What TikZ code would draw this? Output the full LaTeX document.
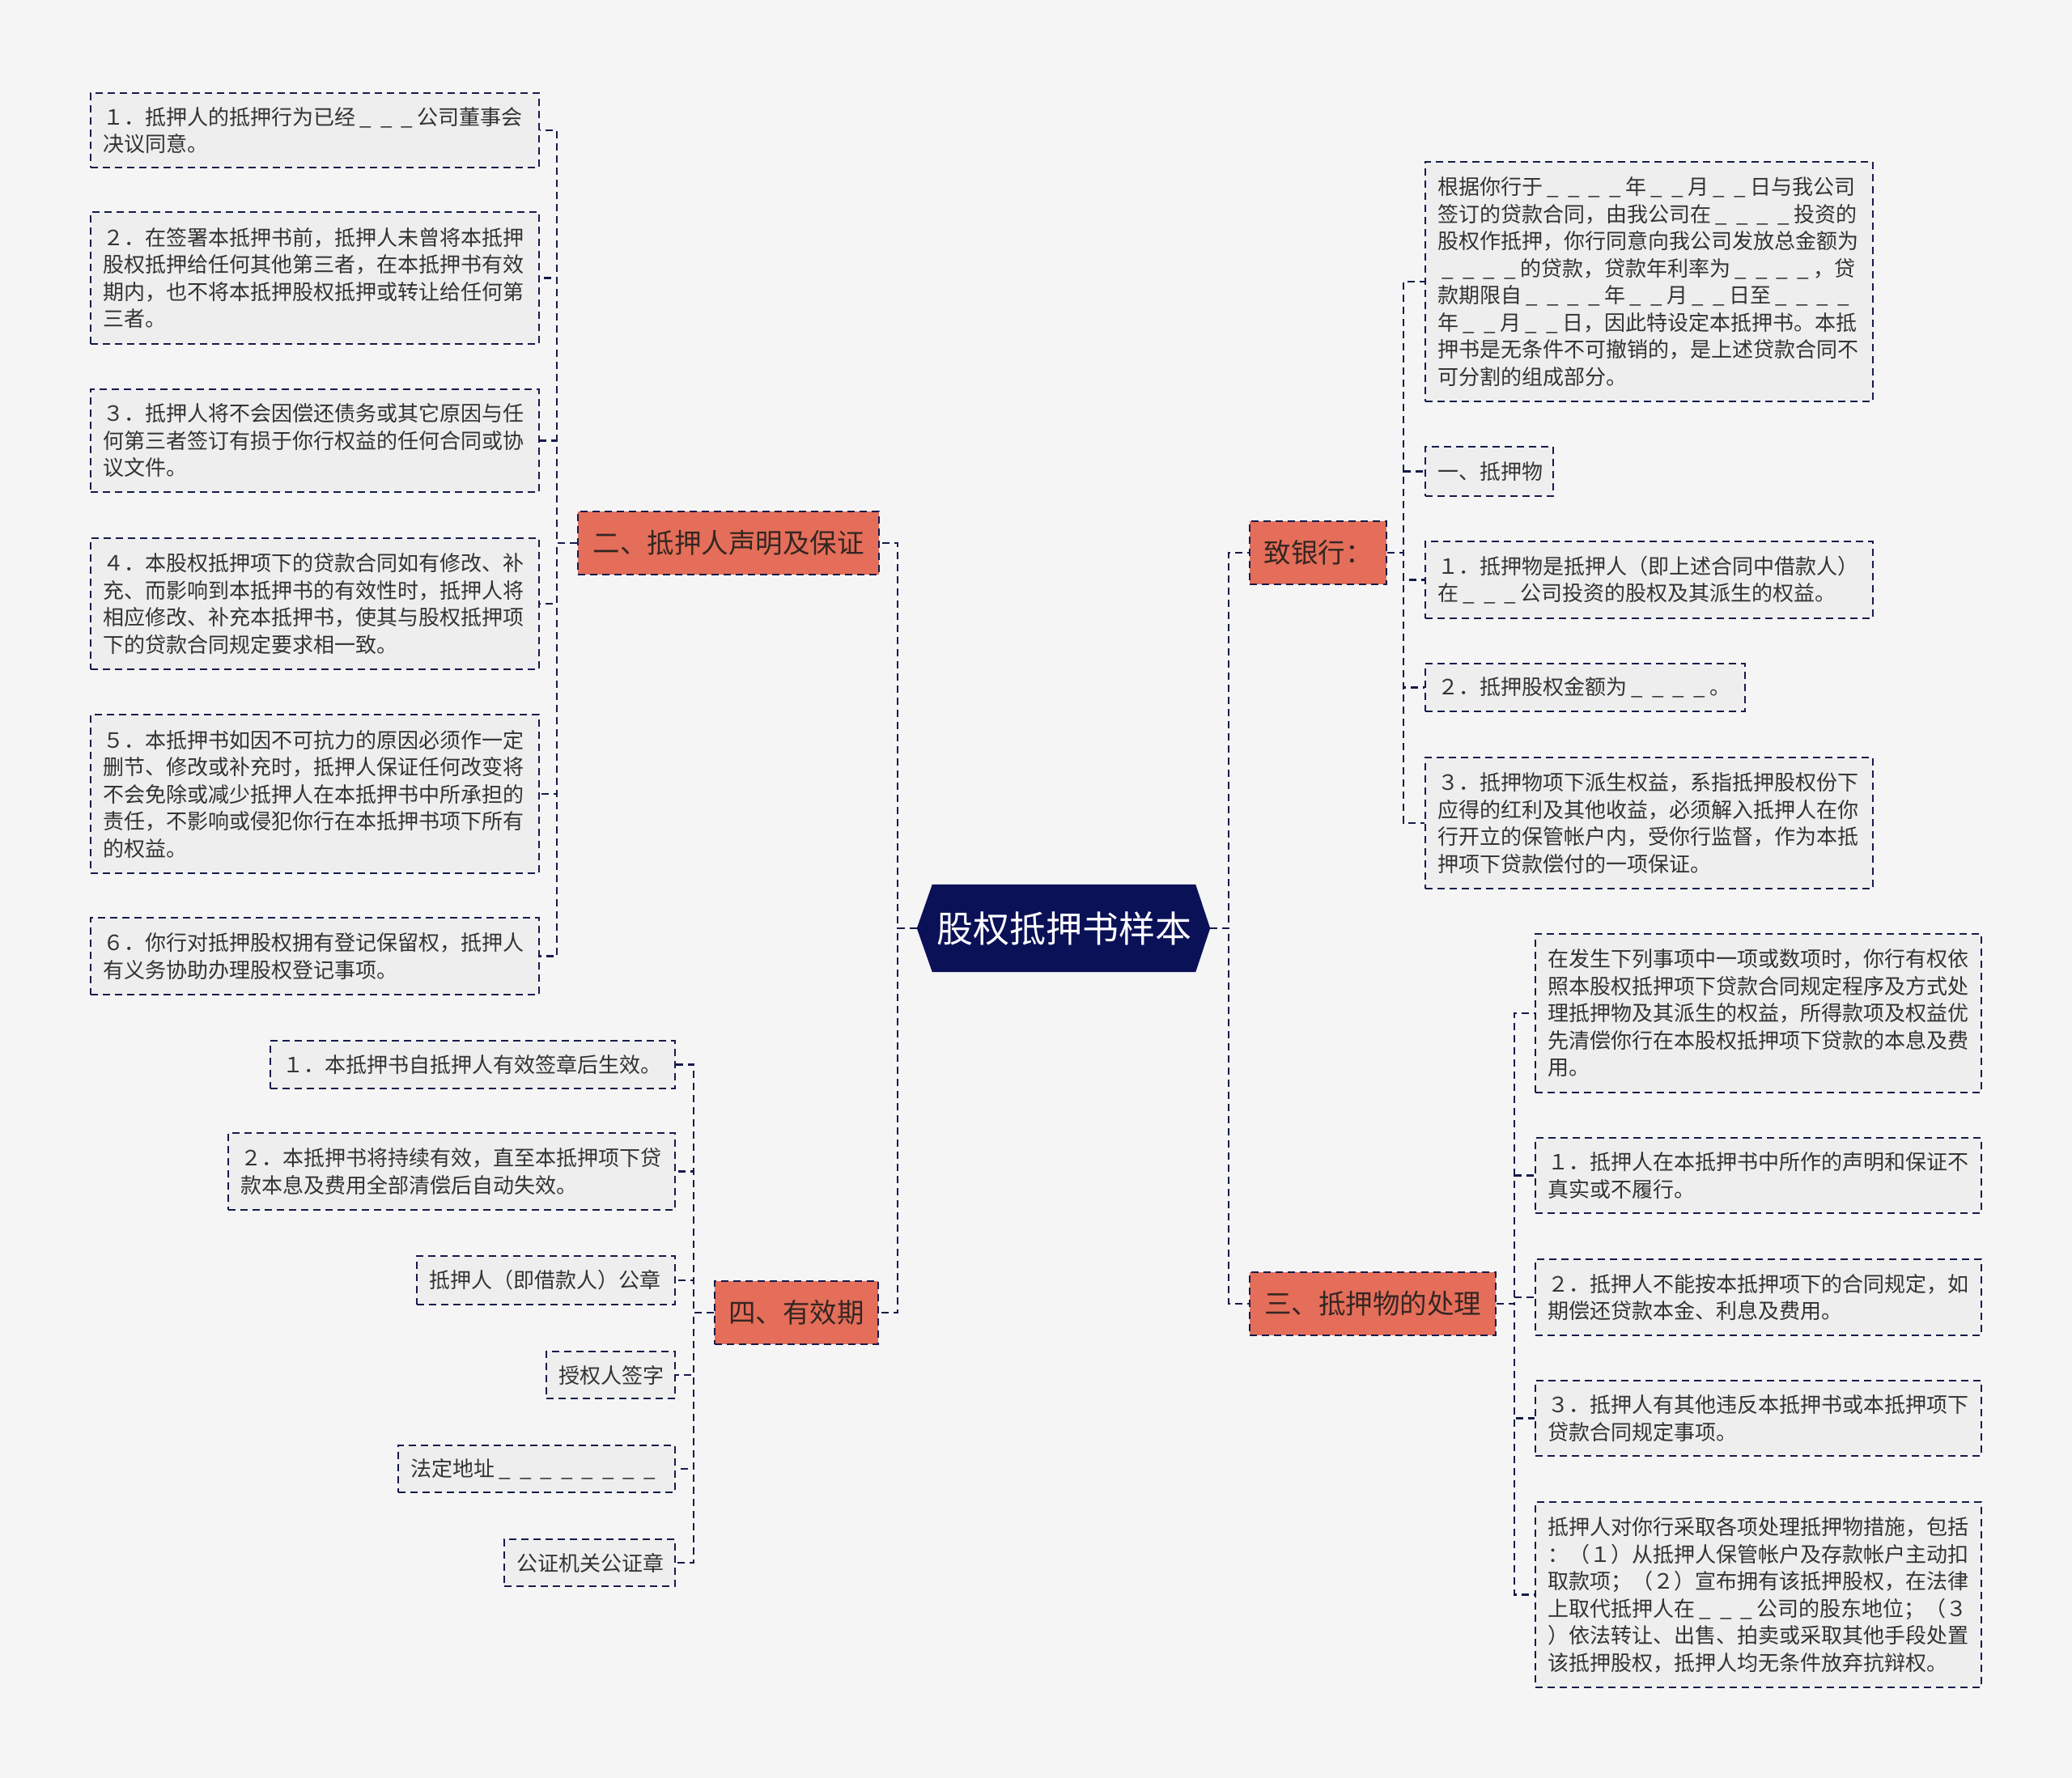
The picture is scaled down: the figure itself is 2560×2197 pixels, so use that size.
\documentclass[tikz,border=0pt]{standalone}
\usepackage{fontspec}
\setmainfont{Noto Sans CJK SC}
\usetikzlibrary{backgrounds}
\definecolor{navy}{RGB}{22,27,75}
\definecolor{rootc}{RGB}{11,17,87}
\definecolor{orng}{RGB}{228,110,90}
\definecolor{bgc}{RGB}{245,245,245}
\definecolor{boxc}{RGB}{238,238,238}
\definecolor{txt}{RGB}{51,51,51}
\definecolor{ltxt}{RGB}{52,38,34}
\newcommand\bk{\makebox[25.5pt][c]{\_}}
\tikzset{
  conn/.style={draw=navy, line width=2.6pt, dash pattern=on 9pt off 6pt},
  leaf/.style={draw=navy, fill=boxc, line width=2.2pt, dash pattern=on 9pt off 6pt,
    inner xsep=15pt, inner ysep=0pt, align=left, anchor=north west, text=txt,
    font=\fontsize{26}{33.5}\selectfont},
  topic/.style={draw=navy, fill=orng, line width=2.2pt, dash pattern=on 9pt off 6pt,
    inner xsep=17pt, inner ysep=0pt, anchor=north west, text=ltxt,
    font=\fontsize{33.5}{40}\selectfont, minimum height=78pt},
  rootn/.style={text=white, font=\fontsize{45}{54}\selectfont, minimum width=325pt,
    minimum height=108pt, inner sep=0pt},
}
\begin{document}
\begin{tikzpicture}[x=1pt,y=-1pt]
\useasboundingbox (0,0) rectangle (2560,2197);
% root
\node[rootn] (root) at (1314.5,1147) {股权抵押书样本};
\coordinate (rootL) at ([xshift=-19pt]root.west);
\coordinate (rootR) at ([xshift=18pt]root.east);
\begin{scope}[on background layer]
  \fill[bgc] (0,0) rectangle (2560,2197);
  \fill[rootc] (root.north west) -- (root.north east) -- (rootR) -- (root.south east)
     -- (root.south west) -- (rootL) -- cycle;
\end{scope}
% spine coordinates
\coordinate (sL) at (1109,0);
\coordinate (sR) at (1518,0);
\coordinate (s2) at (688,0);
\coordinate (s4) at (857,0);
\coordinate (s0) at (1734,0);
\coordinate (s3) at (1871,0);
% topics
\node[topic, minimum width=372pt] (t2) at (713,631) {二、抵押人声明及保证};
\node[topic, minimum width=202pt] (t4) at (882,1582) {四、有效期};
\node[topic, minimum width=169pt] (t0) at (1543,643) {致银行：};
\node[topic, minimum width=304pt] (t3) at (1543,1571) {三、抵押物的处理};
% left: 二
\node[leaf, text width=524pt, minimum height=92pt] (a1) at (111,114) {１．抵押人的抵押行为已经\bk{}\bk{}\bk{}公司董事会\\决议同意。};
\node[leaf, text width=524pt, minimum height=163pt] (a2) at (111,261) {２．在签署本抵押书前，抵押人未曾将本抵押\\股权抵押给任何其他第三者，在本抵押书有效\\期内，也不将本抵押股权抵押或转让给任何第\\三者。};
\node[leaf, text width=524pt, minimum height=127pt] (a3) at (111,480) {３．抵押人将不会因偿还债务或其它原因与任\\何第三者签订有损于你行权益的任何合同或协\\议文件。};
\node[leaf, text width=524pt, minimum height=162pt] (a4) at (111,664) {４．本股权抵押项下的贷款合同如有修改、补\\充、而影响到本抵押书的有效性时，抵押人将\\相应修改、补充本抵押书，使其与股权抵押项\\下的贷款合同规定要求相一致。};
\node[leaf, text width=524pt, minimum height=196pt] (a5) at (111,882) {５．本抵押书如因不可抗力的原因必须作一定\\删节、修改或补充时，抵押人保证任何改变将\\不会免除或减少抵押人在本抵押书中所承担的\\责任，不影响或侵犯你行在本抵押书项下所有\\的权益。};
\node[leaf, text width=524pt, minimum height=95pt] (a6) at (111,1133) {６．你行对抵押股权拥有登记保留权，抵押人\\有义务协助办理股权登记事项。};
% left: 四
\node[leaf, text width=470pt, minimum height=59pt] (b1) at (333,1285) {１．本抵押书自抵押人有效签章后生效。};
\node[leaf, text width=522pt, minimum height=95pt] (b2) at (281,1399) {２．本抵押书将持续有效，直至本抵押项下贷\\款本息及费用全部清偿后自动失效。};
\node[leaf, text width=289pt, minimum height=60pt] (b3) at (514,1551) {抵押人（即借款人）公章};
\node[leaf, text width=129pt, minimum height=58pt] (b4) at (674,1669) {授权人签字};
\node[leaf, text width=312pt, minimum height=58pt] (b5) at (491,1785) {法定地址\bk{}\bk{}\bk{}\bk{}\bk{}\bk{}\bk{}\bk{}};
\node[leaf, text width=181pt, minimum height=58pt] (b6) at (622,1901) {公证机关公证章};
% right: 致银行
\node[leaf, text width=523pt, minimum height=296pt] (c1) at (1760,199) {根据你行于\bk{}\bk{}\bk{}\bk{}年\bk{}\bk{}月\bk{}\bk{}日与我公司\\签订的贷款合同，由我公司在\bk{}\bk{}\bk{}\bk{}投资的\\股权作抵押，你行同意向我公司发放总金额为\\\bk{}\bk{}\bk{}\bk{}的贷款，贷款年利率为\bk{}\bk{}\bk{}\bk{}，贷\\款期限自\bk{}\bk{}\bk{}\bk{}年\bk{}\bk{}月\bk{}\bk{}日至\bk{}\bk{}\bk{}\bk{}\\年\bk{}\bk{}月\bk{}\bk{}日，因此特设定本抵押书。本抵\\押书是无条件不可撤销的，是上述贷款合同不\\可分割的组成部分。};
\node[leaf, text width=128pt, minimum height=61pt] (c2) at (1760,551) {一、抵押物};
\node[leaf, text width=523pt, minimum height=95pt] (c3) at (1760,668) {１．抵押物是抵押人（即上述合同中借款人）\\在\bk{}\bk{}\bk{}公司投资的股权及其派生的权益。};
\node[leaf, text width=365pt, minimum height=59pt] (c4) at (1760,819) {２．抵押股权金额为\bk{}\bk{}\bk{}\bk{}。};
\node[leaf, text width=523pt, minimum height=162pt] (c5) at (1760,935) {３．抵押物项下派生权益，系指抵押股权份下\\应得的红利及其他收益，必须解入抵押人在你\\行开立的保管帐户内，受你行监督，作为本抵\\押项下贷款偿付的一项保证。};
% right: 三
\node[leaf, text width=521pt, minimum height=196pt] (d1) at (1896,1153) {在发生下列事项中一项或数项时，你行有权依\\照本股权抵押项下贷款合同规定程序及方式处\\理抵押物及其派生的权益，所得款项及权益优\\先清偿你行在本股权抵押项下贷款的本息及费\\用。};
\node[leaf, text width=521pt, minimum height=93pt] (d2) at (1896,1405) {１．抵押人在本抵押书中所作的声明和保证不\\真实或不履行。};
\node[leaf, text width=521pt, minimum height=94pt] (d3) at (1896,1555) {２．抵押人不能按本抵押项下的合同规定，如\\期偿还贷款本金、利息及费用。};
\node[leaf, text width=521pt, minimum height=93pt] (d4) at (1896,1705) {３．抵押人有其他违反本抵押书或本抵押项下\\贷款合同规定事项。};
\node[leaf, text width=521pt, minimum height=229pt] (d5) at (1896,1855) {抵押人对你行采取各项处理抵押物措施，包括\\：（１）从抵押人保管帐户及存款帐户主动扣\\取款项；（２）宣布拥有该抵押股权，在法律\\上取代抵押人在\bk{}\bk{}\bk{}公司的股东地位；（３\\）依法转让、出售、拍卖或采取其他手段处置\\该抵押股权，抵押人均无条件放弃抗辩权。};
% connectors
\foreach \c in {t2,t4} \draw[conn] (rootL) -- (rootL -| sL) |- (\c.east);
\foreach \c in {t0,t3} \draw[conn] (rootR) -- (rootR -| sR) |- (\c.west);
\foreach \c in {a1,a2,a3,a4,a5,a6} \draw[conn] (t2.west) -- (t2.west -| s2) |- (\c.east);
\foreach \c in {b1,b2,b3,b4,b5,b6} \draw[conn] (t4.west) -- (t4.west -| s4) |- (\c.east);
\foreach \c in {c1,c2,c3,c4,c5} \draw[conn] (t0.east) -- (t0.east -| s0) |- (\c.west);
\foreach \c in {d1,d2,d3,d4,d5} \draw[conn] (t3.east) -- (t3.east -| s3) |- (\c.west);
\end{tikzpicture}
\end{document}
